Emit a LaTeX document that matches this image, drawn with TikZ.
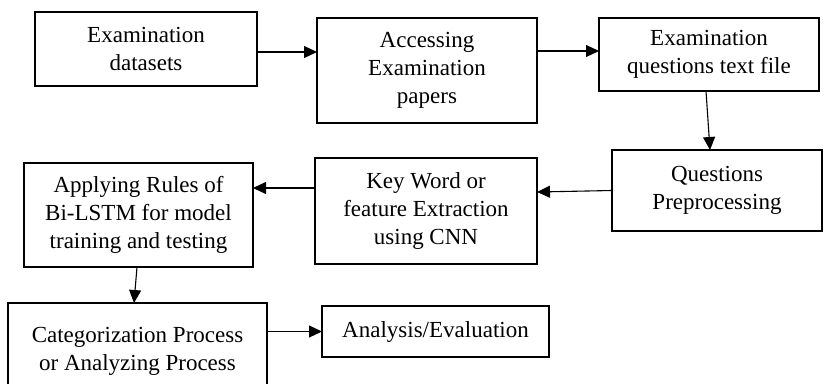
\documentclass[tikz,border=0pt]{standalone}
\usepackage{fontspec}
\setmainfont{Liberation Serif}
\usetikzlibrary{arrows.meta}
\begin{document}
\begin{tikzpicture}[x=1pt,y=-1pt,
  stage/.style={draw, line width=2pt, rectangle, anchor=north west,
    inner sep=0pt, outer sep=0pt, align=center,
    font=\fontsize{23pt}{28pt}\selectfont},
  flow/.style={draw, line width=1.1pt,
    -{Triangle[length=13pt,width=12pt]}}]
\useasboundingbox (0,0) rectangle (824,383);
\clip (0,0) rectangle (824,383);
% process boxes
\node[stage, minimum width=222pt, minimum height=74pt]  (b1) at (35,12)  {Examination\\datasets};
\node[stage, minimum width=220pt, minimum height=105pt] (b2) at (317,18) {Accessing\\Examination\\papers};
\node[stage, minimum width=220pt, minimum height=73pt]  (b3) at (599,18) {Examination\\questions text file};
\node[stage, minimum width=210pt, minimum height=81pt]  (b4) at (612,150) {Questions\\Preprocessing};
\node[stage, minimum width=222pt, minimum height=106pt] (b5) at (315,158) {Key Word or\\feature Extraction\\using CNN};
\node[stage, minimum width=229pt, minimum height=104pt] (b6) at (24,163) {Applying Rules of\\Bi-LSTM for model\\training and testing};
\node[stage, minimum width=259pt, minimum height=96pt]  (b7) at (8,303)  {Categorization Process\\or Analyzing Process};
\node[stage, minimum width=227pt, minimum height=51pt]  (b8) at (322,306) {Analysis/Evaluation};
% connectors
\draw[flow] ([yshift=-3pt]b1.east) -- ([yshift=-3pt]b1.east -| b2.west);
\draw[flow] ([yshift=3.5pt]b3.west -| b2.east) -- ([yshift=3.5pt]b3.west);
\draw[flow] ([xshift=-3pt]b3.south) -- ([xshift=-7pt]b4.north);
\draw[flow] (b4.west) -- ([yshift=-1.5pt]b4.west -| b5.east);
\draw[flow] ([yshift=23pt]b5.west) -- ([yshift=23pt]b5.west -| b6.east);
\draw[flow] ([xshift=-1.5pt]b6.south) -- ([xshift=-3.5pt]b7.north);
\draw[flow] (b8.west -| b7.east) -- (b8.west);
\end{tikzpicture}
\end{document}
